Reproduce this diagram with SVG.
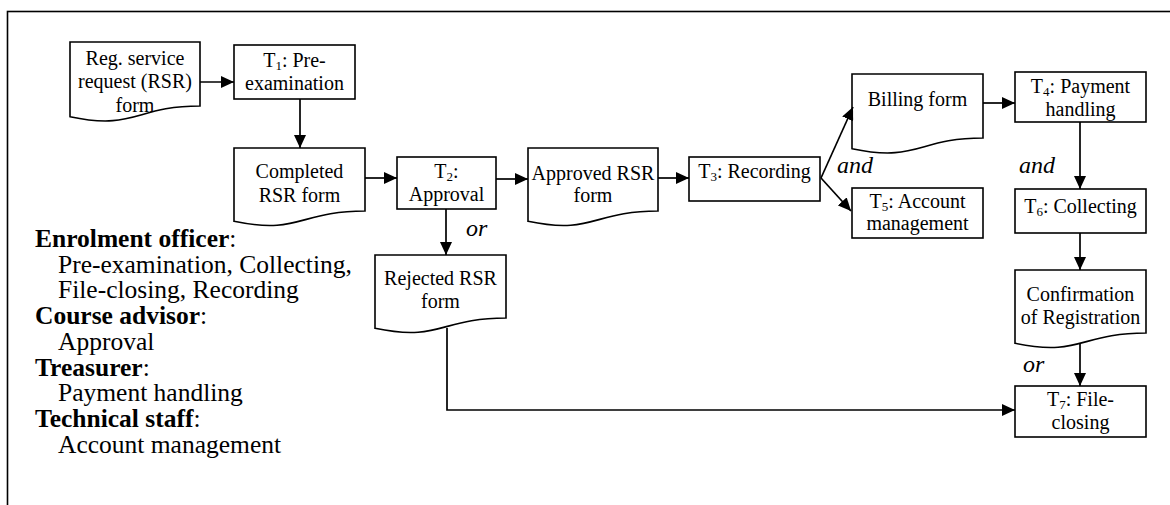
<svg xmlns="http://www.w3.org/2000/svg" width="1170" height="505" viewBox="0 0 1170 505">
<style>
.shape{fill:#fff;stroke:#000;stroke-width:1.6}
.t{font-family:"Liberation Serif","Times New Roman",serif;font-size:20px;fill:#000;text-anchor:middle}
.sub{font-size:13px}
.lbl{font-family:"Liberation Serif","Times New Roman",serif;font-size:24px;font-style:italic;fill:#000}
.leg{font-family:"Liberation Serif","Times New Roman",serif;font-size:25.5px;fill:#000}
.b{font-weight:bold}
.c{fill:none;stroke:#000;stroke-width:1.7}
</style>
<defs>
<marker id="ah" markerUnits="userSpaceOnUse" markerWidth="14" markerHeight="12" refX="13" refY="6" orient="auto">
<path d="M0,0 L13,6 L0,12 z" fill="#000"/>
</marker>
</defs>
<rect x="7.5" y="11.5" width="1170" height="500" fill="none" stroke="#000" stroke-width="1.6"/>

<g id="rsr-form">
<path class="shape" d="M70,42 H200 V106 C135,106 135,130.6 70,116.7 Z"/>
<text class="t" x="135" y="65">Reg. service</text>
<text class="t" x="135" y="88">request (RSR)</text>
<text class="t" x="135" y="112">form</text>
</g>
<g id="t1">
<rect class="shape" x="234" y="45" width="121" height="54"/>
<text class="t" x="294.5" y="67">T<tspan class="sub" dy="3">1</tspan><tspan dy="-3">: Pre-</tspan></text>
<text class="t" x="294.5" y="90">examination</text>
</g>
<g id="completed-form">
<path class="shape" d="M234,148 H365 V211 C299.5,211 299.5,234.9 234,221.3 Z"/>
<text class="t" x="299.5" y="178">Completed</text>
<text class="t" x="299.5" y="202">RSR form</text>
</g>
<g id="t2">
<rect class="shape" x="397" y="157" width="99" height="52"/>
<text class="t" x="446.5" y="178">T<tspan class="sub" dy="3">2</tspan><tspan dy="-3">:</tspan></text>
<text class="t" x="446.5" y="201">Approval</text>
</g>
<g id="approved-form">
<path class="shape" d="M528,148 H658 V211 C593,211 593,234.9 528,221.3 Z"/>
<text class="t" x="593" y="180">Approved RSR</text>
<text class="t" x="593" y="202">form</text>
</g>
<g id="rejected-form">
<path class="shape" d="M375,255 H506 V318 C440.5,318 440.5,341.9 375,328.3 Z"/>
<text class="t" x="440.5" y="285">Rejected RSR</text>
<text class="t" x="440.5" y="308">form</text>
</g>
<g id="t3">
<rect class="shape" x="689" y="157" width="131" height="44"/>
<text class="t" x="754.5" y="178">T<tspan class="sub" dy="3">3</tspan><tspan dy="-3">: Recording</tspan></text>
</g>
<g id="billing-form">
<path class="shape" d="M852,74 H983 V138 C917.5,138 917.5,162.6 852,148.7 Z"/>
<text class="t" x="917.5" y="106">Billing form</text>
</g>
<g id="t5">
<rect class="shape" x="852" y="188" width="131" height="50"/>
<text class="t" x="917.5" y="208">T<tspan class="sub" dy="3">5</tspan><tspan dy="-3">: Account</tspan></text>
<text class="t" x="917.5" y="230">management</text>
</g>
<g id="t4">
<rect class="shape" x="1015" y="72" width="131" height="50"/>
<text class="t" x="1080.5" y="93">T<tspan class="sub" dy="3">4</tspan><tspan dy="-3">: Payment</tspan></text>
<text class="t" x="1080.5" y="116">handling</text>
</g>
<g id="t6">
<rect class="shape" x="1015" y="189" width="131" height="44"/>
<text class="t" x="1080.5" y="213">T<tspan class="sub" dy="3">6</tspan><tspan dy="-3">: Collecting</tspan></text>
</g>
<g id="confirmation">
<path class="shape" d="M1015,270 H1146 V333 C1080.5,333 1080.5,356.9 1015,343.3 Z"/>
<text class="t" x="1080.5" y="301">Confirmation</text>
<text class="t" x="1080.5" y="324">of Registration</text>
</g>
<g id="t7">
<rect class="shape" x="1015" y="386" width="131" height="51"/>
<text class="t" x="1080.5" y="406">T<tspan class="sub" dy="3">7</tspan><tspan dy="-3">: File-</tspan></text>
<text class="t" x="1080.5" y="429">closing</text>
</g>

<g id="connectors">
<line class="c" x1="200" y1="82" x2="234" y2="82" marker-end="url(#ah)"/>
<line class="c" x1="300" y1="99" x2="300" y2="148" marker-end="url(#ah)"/>
<line class="c" x1="365" y1="178" x2="397" y2="178" marker-end="url(#ah)"/>
<line class="c" x1="496" y1="179" x2="528" y2="179" marker-end="url(#ah)"/>
<line class="c" x1="446" y1="209" x2="446" y2="255" marker-end="url(#ah)"/>
<line class="c" x1="658" y1="178" x2="689" y2="178" marker-end="url(#ah)"/>
<line class="c" x1="821" y1="178" x2="853" y2="107" marker-end="url(#ah)"/>
<line class="c" x1="821" y1="178" x2="851" y2="211" marker-end="url(#ah)"/>
<line class="c" x1="983" y1="103" x2="1015" y2="103" marker-end="url(#ah)"/>
<line class="c" x1="1080" y1="122" x2="1080" y2="189" marker-end="url(#ah)"/>
<line class="c" x1="1080" y1="233" x2="1080" y2="270" marker-end="url(#ah)"/>
<line class="c" x1="1080" y1="343" x2="1080" y2="386" marker-end="url(#ah)"/>
<polyline class="c" points="447,328 447,410 1015,410" marker-end="url(#ah)"/>
<text class="lbl" x="466" y="236">or</text>
<text class="lbl" x="837" y="173">and</text>
<text class="lbl" x="1019" y="173">and</text>
<text class="lbl" x="1023" y="372">or</text>
</g>

<g id="legend">
<text class="leg" x="35" y="247"><tspan class="b">Enrolment officer</tspan>:</text>
<text class="leg" x="58" y="273">Pre-examination, Collecting,</text>
<text class="leg" x="58" y="298">File-closing, Recording</text>
<text class="leg" x="35" y="324"><tspan class="b">Course advisor</tspan>:</text>
<text class="leg" x="58" y="350">Approval</text>
<text class="leg" x="35" y="376"><tspan class="b">Treasurer</tspan>:</text>
<text class="leg" x="58" y="401">Payment handling</text>
<text class="leg" x="35" y="427"><tspan class="b">Technical staff</tspan>:</text>
<text class="leg" x="58" y="453">Account management</text>
</g>
</svg>
